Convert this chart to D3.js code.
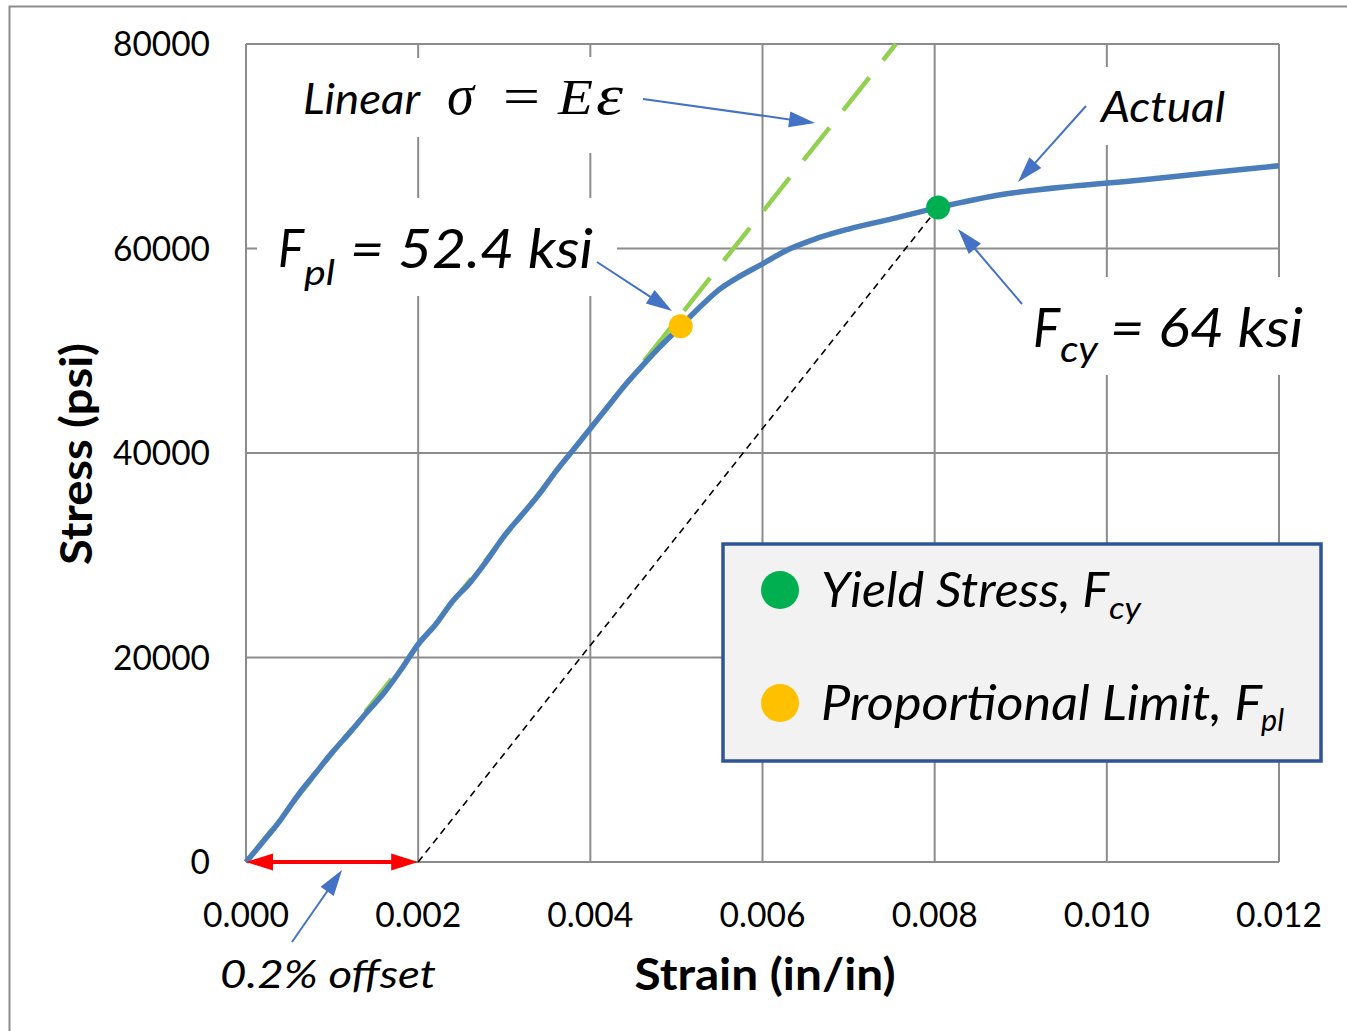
<!DOCTYPE html>
<html><head><meta charset="utf-8">
<script src="https://cdn.jsdelivr.net/npm/d3@7"></script>
<style>body{margin:0;background:#fff}</style>
</head><body><svg id="c" width="1347" height="1031"></svg>
<script>
// ---- data ----
const actualStrain = [0, 0.0002, 0.0004, 0.0006, 0.0008, 0.0010, 0.0012, 0.0014, 0.0016, 0.0018, 0.0020, 0.0022, 0.0024, 0.0026, 0.0028, 0.0030, 0.0032, 0.0034, 0.0036, 0.0038, 0.0040, 0.0042, 0.0044, 0.0046, 0.0048, 0.00505, 0.0053, 0.0055, 0.0057, 0.0060, 0.0063, 0.0066, 0.0070, 0.0075, 0.00804, 0.0088, 0.0096, 0.0104, 0.0112, 0.0120];
const actualStress = [0, 2000, 4100, 6500, 8600, 10700, 12600, 14600, 16500, 18800, 21300, 23200, 25500, 27300, 29500, 31900, 33900, 35900, 38200, 40300, 42400, 44500, 46600, 48500, 50300, 52400, 54500, 56000, 57100, 58500, 59900, 60900, 61900, 62900, 64000, 65300, 66100, 66700, 67400, 68100];
const linearStrain = [0, 0.00755];
const linearStress = [0, 80000];
const offsetStrain = [0.002, 0.00804];
const offsetStress = [0, 64000];
const offsetBar = [0, 0.002];
const yieldPoint = [0.00804, 64000];
const propPoint = [0.00505, 52400];
const xTicks = [0, 0.002, 0.004, 0.006, 0.008, 0.010, 0.012];
const xTickLabels = ["0.000", "0.002", "0.004", "0.006", "0.008", "0.010", "0.012"];
const yTicks = [0, 20000, 40000, 60000, 80000];
const yTickLabels = ["0", "20000", "40000", "60000", "80000"];

// ---- setup ----
const svg = d3.select("#c");
const x = d3.scaleLinear().domain([0, 0.012]).range([246, 1279]);
const y = d3.scaleLinear().domain([0, 80000]).range([862, 44]);
const SANS = "Lato, 'Open Sans', sans-serif";
const SERIF = "'Liberation Serif', 'DejaVu Serif', serif";
const BLUE_ARROW = "#4472c4";

// outer chart border (left + top)
svg.append("path").attr("d", "M9.5,1031 L9.5,6.5 L1347,6.5")
  .attr("fill", "none").attr("stroke", "#8c8c8c").attr("stroke-width", 2);

// gridlines
const grid = svg.append("g").attr("stroke", "#8c8c8c").attr("stroke-width", 2);
grid.selectAll(".v").data(xTicks).join("line")
  .attr("x1", d => x(d)).attr("x2", d => x(d)).attr("y1", y(0)).attr("y2", y(80000));
grid.selectAll(".h").data(yTicks).join("line")
  .attr("x1", x(0)).attr("x2", x(0.012)).attr("y1", d => y(d)).attr("y2", d => y(d));

// tick labels
svg.append("g").selectAll("text").data(yTicks).join("text")
  .attr("x", 210).attr("y", d => y(d) + 12).attr("text-anchor", "end")
  .attr("font-family", SANS).attr("font-size", 34).attr("fill", "#000")
  .attr("textLength", (d, i) => yTickLabels[i].length * 19.4).attr("lengthAdjust", "spacingAndGlyphs")
  .text((d, i) => yTickLabels[i]);
svg.append("g").selectAll("text").data(xTicks).join("text")
  .attr("x", d => x(d)).attr("y", 927).attr("text-anchor", "middle")
  .attr("font-family", SANS).attr("font-size", 34).attr("fill", "#000")
  .attr("textLength", 86).attr("lengthAdjust", "spacingAndGlyphs")
  .text((d, i) => xTickLabels[i]);

// axis titles
svg.append("text").attr("x", 765).attr("y", 990).attr("text-anchor", "middle")
  .attr("font-family", SANS).attr("font-weight", "bold").attr("font-size", 43)
  .attr("textLength", 261).attr("lengthAdjust", "spacingAndGlyphs").text("Strain (in/in)");
svg.append("text").attr("transform", "translate(92,454) rotate(-90)").attr("text-anchor", "middle")
  .attr("font-family", SANS).attr("font-weight", "bold").attr("font-size", 43)
  .attr("textLength", 222).attr("lengthAdjust", "spacingAndGlyphs").text("Stress (psi)");

// white text boxes (cover gridlines)
const boxes = [[292, 58, 140, 79], [432, 57, 200, 96], [257, 198, 360, 98], [1090, 67, 150, 78], [1025, 277, 290, 98]];
svg.append("g").selectAll("rect").data(boxes).join("rect")
  .attr("x", d => d[0]).attr("y", d => d[1]).attr("width", d => d[2]).attr("height", d => d[3]).attr("fill", "#fff");

// series
const line = d3.line().x(d => x(d[0])).y(d => y(d[1]));
svg.append("path").datum(linearStrain.map((s, i) => [s, linearStress[i]]))
  .attr("d", line).attr("fill", "none").attr("stroke", "#92d050").attr("stroke-width", 4.5)
  .attr("stroke-dasharray", "42,22");
svg.append("path").datum(actualStrain.map((s, i) => [s, actualStress[i]]))
  .attr("d", d3.line().x(d => x(d[0])).y(d => y(d[1])).curve(d3.curveMonotoneX))
  .attr("fill", "none").attr("stroke", "#4a7ebb").attr("stroke-width", 5.5)
  .attr("stroke-linejoin", "round");
svg.append("path").datum(offsetStrain.map((s, i) => [s, offsetStress[i]]))
  .attr("d", line).attr("fill", "none").attr("stroke", "#000").attr("stroke-width", 1.6)
  .attr("stroke-dasharray", "7,5");

// markers
svg.append("circle").attr("cx", x(yieldPoint[0])).attr("cy", y(yieldPoint[1])).attr("r", 12).attr("fill", "#00b050");
svg.append("circle").attr("cx", x(propPoint[0])).attr("cy", y(propPoint[1])).attr("r", 12).attr("fill", "#ffc000");

// arrow helper
function arrowHead(g, tx, ty, fx, fy, len, w, color) {
  const dx = tx - fx, dy = ty - fy, L = Math.hypot(dx, dy);
  const ux = dx / L, uy = dy / L, px = -uy, py = ux;
  const bx = tx - ux * len, by = ty - uy * len;
  g.append("path").attr("d", `M${tx},${ty} L${bx + px * w / 2},${by + py * w / 2} L${bx - px * w / 2},${by - py * w / 2} Z`)
    .attr("fill", color);
  return [bx + ux * 2, by + uy * 2];
}
function arrow(x1, y1, x2, y2, color, sw, len, w) {
  const g = svg.append("g");
  const b = arrowHead(g, x2, y2, x1, y1, len, w, color);
  g.insert("line", "path").attr("x1", x1).attr("y1", y1).attr("x2", b[0]).attr("y2", b[1])
    .attr("stroke", color).attr("stroke-width", sw);
}

// red double arrow (0.2% offset)
{
  const g = svg.append("g");
  const xa = x(offsetBar[0]), xb = x(offsetBar[1]), yy = y(0);
  g.append("line").attr("x1", xa + 20).attr("x2", xb - 20).attr("y1", yy).attr("y2", yy)
    .attr("stroke", "#ff0000").attr("stroke-width", 4);
  arrowHead(g, xa, yy, xb, yy, 27, 17, "#ff0000");
  arrowHead(g, xb, yy, xa, yy, 27, 17, "#ff0000");
}

// annotation arrows
arrow(643, 99, 815, 123, BLUE_ARROW, 2, 26, 16);
arrow(597, 262, 672, 311, BLUE_ARROW, 2, 26, 16);
arrow(1086, 106, 1018, 182, BLUE_ARROW, 2, 26, 16);
arrow(1022, 304, 958, 229, BLUE_ARROW, 2, 26, 16);
arrow(292, 942, 342, 870, BLUE_ARROW, 2, 26, 16);

// annotation texts
function txt(s, xx, yy, size, opts = {}) {
  const t = svg.append("text").attr("x", xx).attr("y", yy).attr("font-size", size)
    .attr("font-family", opts.family || SANS).attr("font-style", opts.style || "italic")
    .attr("fill", "#000").text(s);
  if (opts.len) t.attr("textLength", opts.len).attr("lengthAdjust", "spacingAndGlyphs");
  return t;
}
txt("Linear", 303, 114, 43, {len: 117});
txt("σ", 447, 114, 58, {family: SERIF, len: 27});
txt("=", 503, 114, 52, {family: SERIF, style: "normal", len: 37});
txt("E", 558, 114, 50, {family: SERIF, len: 35});
txt("ε", 596, 114, 56, {family: SERIF, len: 27});
txt("Actual", 1101, 122, 43, {len: 124});
txt("0.2% offset", 220, 988, 38, {len: 216});

txt("F", 278, 267, 53, {len: 26});
txt("pl", 304, 285, 35, {len: 31});
txt("= 52.4 ksi", 350, 268, 54, {len: 243});

txt("F", 1033, 347, 54, {len: 27});
txt("cy", 1060, 362, 36, {len: 38});
txt("= 64 ksi", 1110, 347, 55, {len: 193});

// legend
svg.append("rect").attr("x", 723).attr("y", 544).attr("width", 598).attr("height", 217)
  .attr("fill", "#f2f2f2").attr("stroke", "#2f5597").attr("stroke-width", 3.5);
svg.append("circle").attr("cx", 780).attr("cy", 590).attr("r", 19).attr("fill", "#00b050");
svg.append("circle").attr("cx", 780).attr("cy", 703).attr("r", 19).attr("fill", "#ffc000");
txt("Yield Stress, F", 821, 607, 48, {len: 288});
txt("cy", 1109, 619, 31, {len: 32});
txt("Proportional Limit, F", 821, 720, 48, {len: 441});
txt("pl", 1261, 731, 31, {len: 23});
</script>
</body></html>
